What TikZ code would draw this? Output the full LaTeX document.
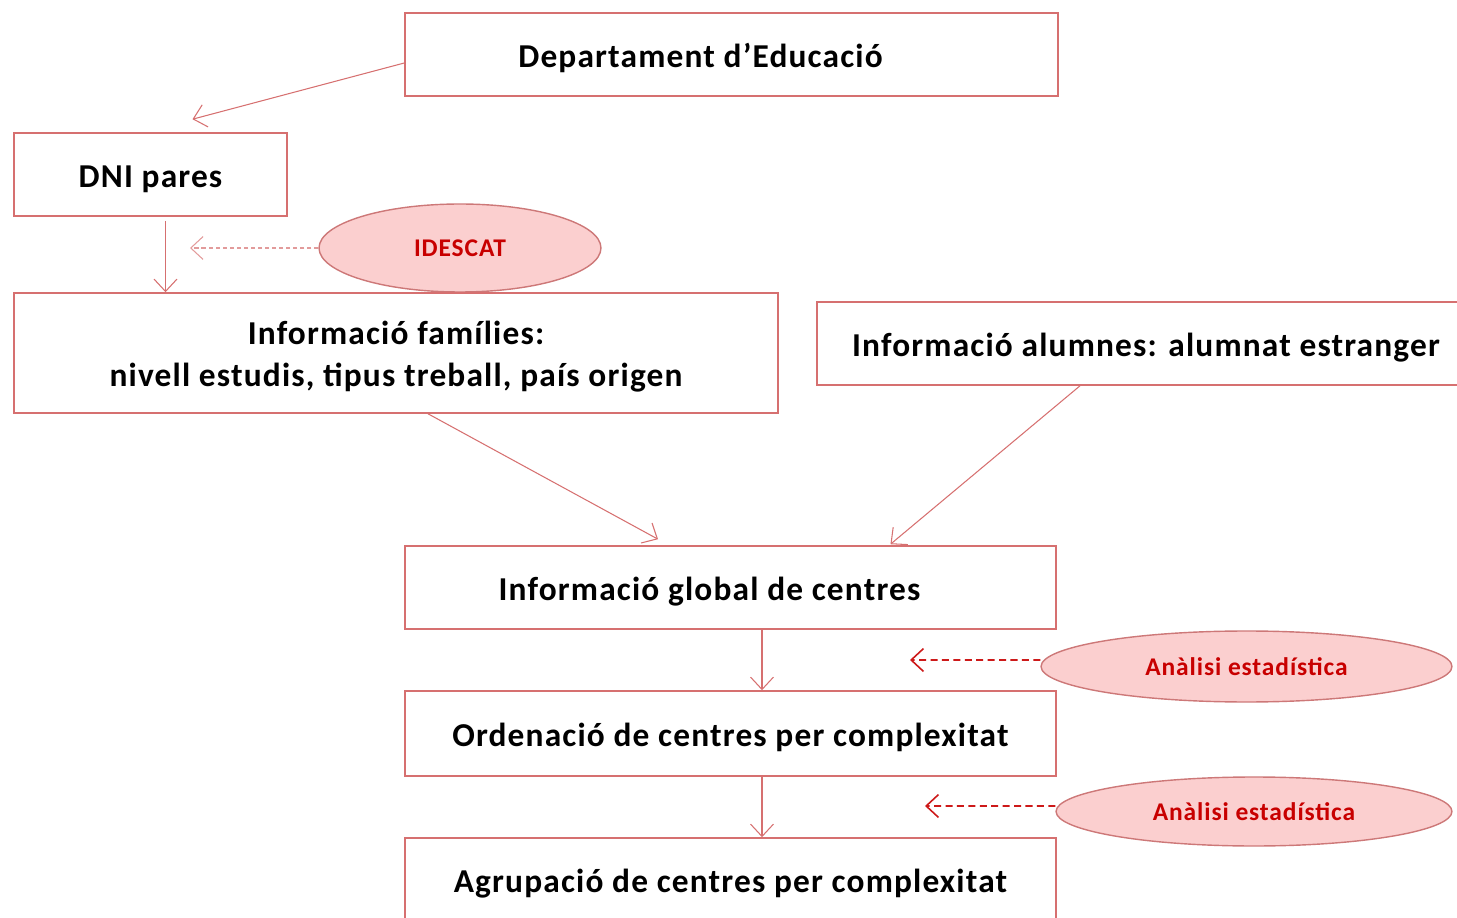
\documentclass[tikz,border=0pt]{standalone}
\usepackage{fontspec}
\setmainfont{Carlito}[LetterSpace=3.5]
\usetikzlibrary{shapes.geometric, arrows.meta}
\definecolor{boxred}{RGB}{214,112,112}
\definecolor{ellfill}{RGB}{251,207,207}
\definecolor{ellline}{RGB}{205,120,120}
\definecolor{txtred}{RGB}{200,0,0}
\newcommand{\offtext}[2]{\hspace*{-#1}#2\hspace*{#1}}
\tikzstyle{process} = [rectangle, minimum width=13.02cm, minimum height=1.66cm, text centered, draw=boxred, line width=0.9pt, text height=15pt, text depth=0pt, font=\fontsize{19}{24}\selectfont\bfseries]
\tikzstyle{source} = [ellipse, text centered, draw=ellline, fill=ellfill, line width=0.8pt, text=txtred, font=\fontsize{14.5}{17}\selectfont\bfseries]
\tikzstyle{arrow} = [draw=boxred, line width=0.6pt, -{Straight Barb[length=7pt,width=13pt]}]
\tikzstyle{dasharrow} = [arrow, dashed, dash pattern=on 4pt off 2.5pt]

\begin{document}
\begin{tikzpicture}[x=0.02cm, y=-0.02cm]

    \clip (0,0) rectangle (1457,918);
    \useasboundingbox (0,0) rectangle (1457,918);

    \node (dept) [process, minimum width=13.06cm] at (731.5,54.5) {\offtext{0.62cm}{Departament d’Educació}};
    \node (dni) [process, minimum width=5.46cm] at (150.5,174.5) {DNI pares};
    \node (idescat) [source, minimum width=5.64cm, minimum height=1.76cm] at (460,248) {IDESCAT};
    \node (families) [process, minimum width=15.28cm, minimum height=2.4cm, text height=38pt, text depth=0pt, align=center] at (396,353) {Informació famílies:\\nivell estudis, tipus treball, país origen};
    \node (alumnes) [process, minimum width=13.16cm] at (1146,343.5) {Informació alumnes: alumnat estranger};
    \node (global) [process] at (730.5,587.5) {\offtext{0.42cm}{Informació global de centres}};
    \node (ordenacio) [process, minimum height=1.7cm] at (730.5,733.5) {Ordenació de centres per complexitat};
    \node (agrupacio) [process] at (730.5,879.5) {Agrupació de centres per complexitat};
    \node (analisiA) [source, minimum width=8.22cm, minimum height=1.42cm] at (1246.5,666.5) {Anàlisi estadística};
    \node (analisiB) [source, minimum width=7.92cm, minimum height=1.38cm] at (1254,811.5) {Anàlisi estadística};

    \coordinate (idtip) at (190,248);
    \coordinate (tipA) at (910,660);
    \coordinate (tipB) at (925,806);

    \draw [arrow] ([yshift=-0.17cm]dept.west) -- ([xshift=0.84cm,yshift=0.26cm]dni.north);
    \draw [arrow] ([xshift=0.3cm,yshift=-0.08cm]dni.south) -- ([xshift=0.3cm]dni.south |- families.north);
    \draw [dasharrow, draw=boxred!70, dash pattern=on 2.5pt off 1.5pt] (idescat.west) -- (idtip);
    \draw [arrow] ([xshift=0.64cm]families.south) -- ([xshift=-1.45cm,yshift=0.12cm]global.north);
    \draw [arrow] ([xshift=-1.32cm]alumnes.south) -- ([xshift=3.2cm,yshift=0.02cm]global.north);
    \draw [arrow] ([xshift=0.63cm]global.south) -- ([xshift=0.63cm]ordenacio.north);
    \draw [arrow] ([xshift=0.63cm]ordenacio.south) -- ([xshift=0.63cm]agrupacio.north);
    \draw [dasharrow, draw=txtred!90, line width=0.9pt] ([yshift=0.13cm]analisiA.west) -- (tipA);
    \draw [dasharrow, draw=txtred!90, line width=0.9pt] ([yshift=0.11cm]analisiB.west) -- (tipB);

\end{tikzpicture}
\end{document}
